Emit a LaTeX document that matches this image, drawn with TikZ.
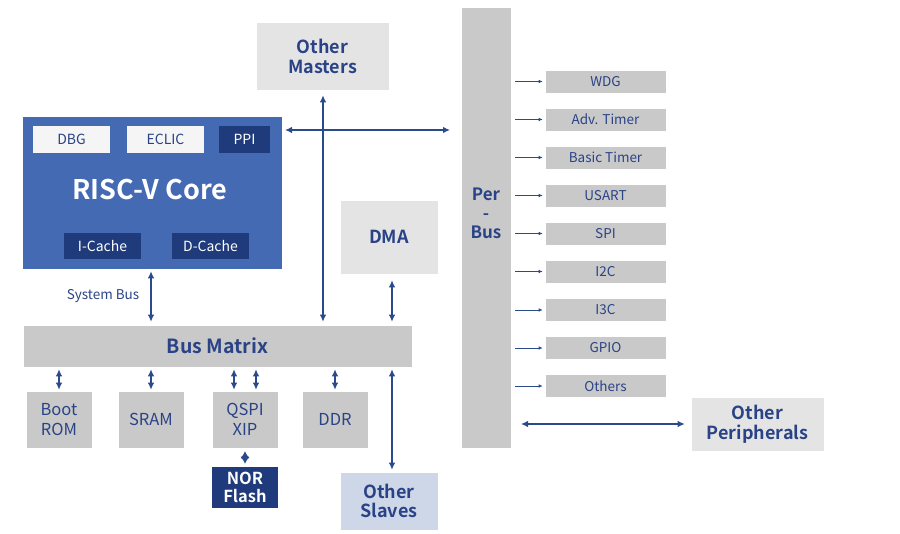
\documentclass[tikz,border=0pt]{standalone}
\usepackage{fontspec}
\setmainfont{Noto Sans CJK SC}[BoldFont={Noto Sans CJK SC Bold}]
\usetikzlibrary{arrows.meta}
\definecolor{navy}{HTML}{2A4386}
\definecolor{coreblue}{HTML}{436AB2}
\definecolor{darkbox}{HTML}{1F3B7B}
\definecolor{lightgray}{HTML}{E4E4E4}
\definecolor{midgray}{HTML}{C9C9C9}
\definecolor{slaveblue}{HTML}{CED7E7}
\definecolor{whitebox}{HTML}{F5F5F5}
\definecolor{arrowc}{HTML}{2A4A8C}
\tikzset{
  box/.style={inner sep=0pt, align=center, text=navy, draw=white, line width=0.6pt},
  lbox/.style={box, fill=lightgray, font=\bfseries\fontsize{18}{20}\selectfont},
  gbox/.style={box, fill=midgray, font=\fontsize{16.5}{20}\selectfont},
  pbox/.style={box, fill=midgray, font=\fontsize{13.5}{14}\selectfont, minimum width=121pt, minimum height=23pt},
  dbox/.style={box, fill=darkbox, text=white, draw=none, font=\fontsize{14}{15}\selectfont},
  wbox/.style={box, fill=whitebox, draw=none, font=\fontsize{14}{15}\selectfont},
  arr/.style={draw=arrowc, line width=1.2pt, {Latex[length=7pt,width=6.5pt]}-{Latex[length=7pt,width=6.5pt]}},
  thinarr/.style={draw=arrowc, line width=0.7pt, -{Latex[length=4pt,width=3.5pt]}},
  diamarr/.style={draw=arrowc, line width=1pt, {Latex[length=7pt,width=9pt]}-{Latex[length=7pt,width=9pt]}},
}
\begin{document}
\begin{tikzpicture}[x=1pt,y=-1pt]
\useasboundingbox (0,0) rectangle (900,534);
% masters
\node[lbox, minimum width=133pt, minimum height=68pt] (om) at (322.5,56) {Other\\Masters};
\node[box, fill=coreblue, draw=none, minimum width=259pt, minimum height=152pt] (core) at (152.5,193) {};
\node[text=white, font=\bfseries\fontsize{27}{30}\selectfont] (coretxt) at (150,190) {RISC-V Core};
\node[wbox, minimum width=77pt, minimum height=27pt] (dbg) at (71.5,139.5) {DBG};
\node[wbox, minimum width=77pt, minimum height=27pt] (eclic) at (165.5,139.5) {ECLIC};
\node[dbox, minimum width=51pt, minimum height=27pt] (ppi) at (244.5,139.5) {PPI};
\node[dbox, minimum width=77pt, minimum height=26pt] (icache) at (102.5,246) {I-Cache};
\node[dbox, minimum width=77pt, minimum height=26pt] (dcache) at (210.5,246) {D-Cache};
\node[lbox, minimum width=98pt, minimum height=74pt] (dma) at (389,237) {DMA};
% bus matrix
\node[box, fill=midgray, text=navy, font=\bfseries\fontsize{19.5}{20}\selectfont, minimum width=389pt, minimum height=42pt] (bm) at (217.5,346) {Bus Matrix};
\node[text=navy, font=\fontsize{13.5}{14}\selectfont] (sysbus) at (103,296) {System Bus};
% slaves
\node[gbox, minimum width=66pt, minimum height=57pt] (boot) at (59,419.5) {Boot\\ROM};
\node[gbox, minimum width=66pt, minimum height=57pt] (sram) at (151,419.5) {SRAM};
\node[gbox, minimum width=66pt, minimum height=57pt] (qspi) at (245,419.5) {QSPI\\XIP};
\node[gbox, minimum width=66pt, minimum height=57pt] (ddr) at (335,419.5) {DDR};
\node[box, fill=darkbox, text=white, draw=none, font=\bfseries\fontsize{16.5}{18}\selectfont, minimum width=66pt, minimum height=41pt] (nor) at (245,487.5) {NOR\\Flash};
\node[box, fill=slaveblue, font=\bfseries\fontsize{18}{19}\selectfont, minimum width=98pt, minimum height=58pt] (os) at (389,501) {Other\\Slaves};
% peripheral bus
\node[box, fill=midgray, minimum width=50pt, minimum height=441pt] (perbus) at (486,227.5) {};
\node[text=navy, font=\bfseries\fontsize{17}{19}\selectfont, align=center] (perbustxt) at (486,213) {Per\\-\\Bus};
\node[pbox] (p1) at (605.5,81.5) {WDG};
\node[pbox] (p2) at (605.5,119.5) {Adv. Timer};
\node[pbox] (p3) at (605.5,157.5) {Basic Timer};
\node[pbox] (p4) at (605.5,195.5) {USART};
\node[pbox] (p5) at (605.5,233.5) {SPI};
\node[pbox] (p6) at (605.5,271.5) {I2C};
\node[pbox] (p7) at (605.5,310) {I3C};
\node[pbox] (p8) at (605.5,348) {GPIO};
\node[pbox] (p9) at (605.5,386) {Others};
\node[lbox, minimum width=133pt, minimum height=54pt] (op) at (757.5,424) {Other\\Peripherals};
% connectors
\coordinate (hl) at (285,130);
\coordinate (hr) at (450,130);
\draw[arr] (hl) -- (hr);
\draw[arr] ([yshift=-5pt]om.south -| 323,0) -- ([yshift=3pt]bm.north -| 323,0);
\draw[arr] ([yshift=-2pt]core.south -| 151,0) -- ([yshift=3pt]bm.north -| 151,0);
\draw[arr] ([yshift=-6pt]dma.south -| 392,0) -- ([yshift=3pt]bm.north -| 392,0);
\foreach \n/\x in {boot/59, sram/151, qspi/234, qspi/256, ddr/335}
  \draw[arr] ([yshift=-2pt]bm.south -| \x,0) -- ([yshift=1pt]\n.north -| \x,0);
\draw[diamarr] ([yshift=-3pt]qspi.south) -- ([yshift=3pt]nor.north);
\draw[arr] ([yshift=-2pt]bm.south -| 392,0) -- ([yshift=2pt]os.north -| 392,0);
\foreach \p in {p1,p2,p3,p4,p5,p6,p7,p8,p9}
  \draw[thinarr] (\p.west -| 515,0) -- ([xshift=-2pt]\p.west);
\draw[arr] (op.west -| 521,0) -- ([xshift=-6pt]op.west);
\end{tikzpicture}
\end{document}
